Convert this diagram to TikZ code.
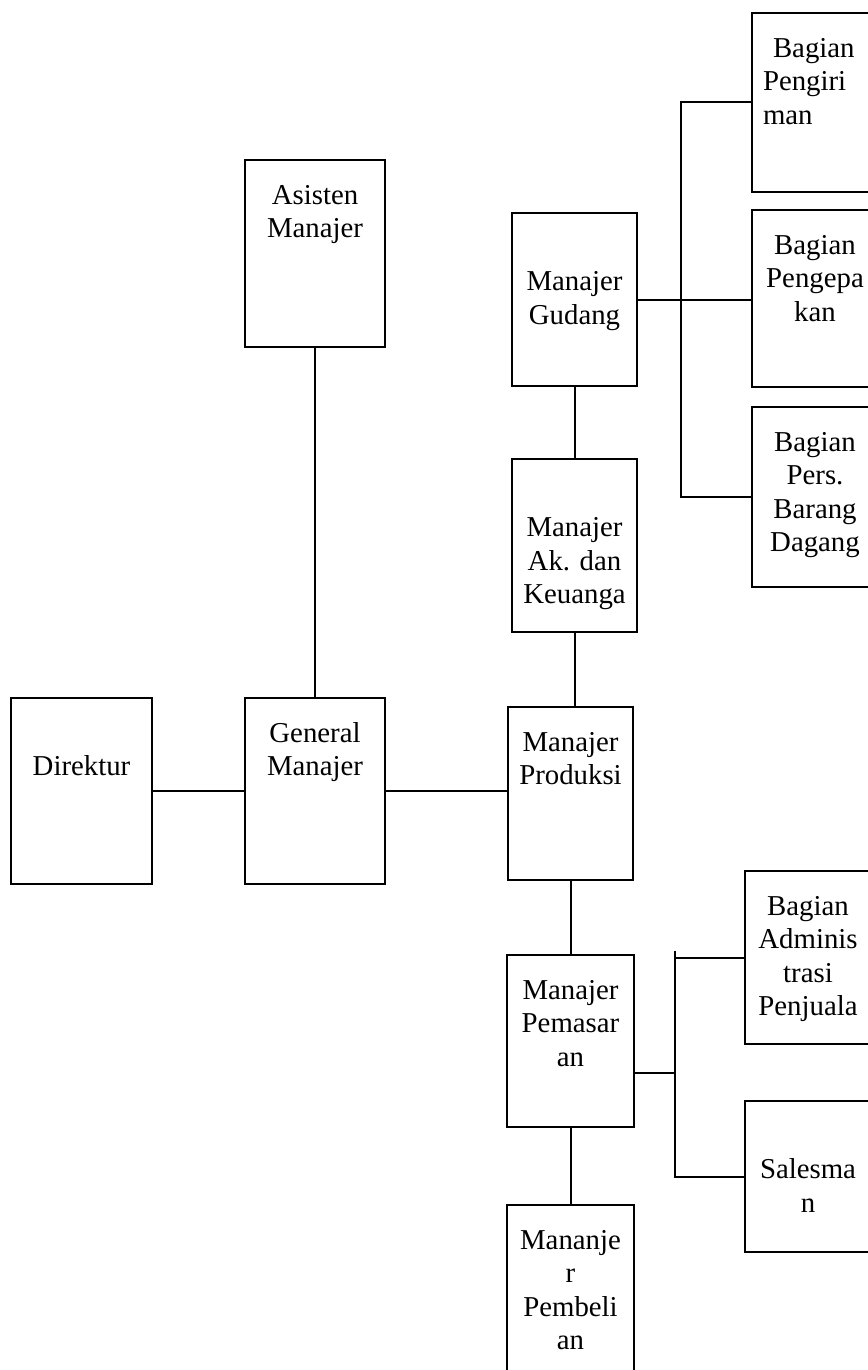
\documentclass[tikz,border=0pt]{standalone}
\usepackage{fontspec}
\setmainfont{Liberation Serif}
\usetikzlibrary{positioning}

\newdimen\pxunit \pxunit=0.5pt
% text of a box: set from the top, first baseline at a fixed depth
\newcommand{\unittext}[3]{\parbox[t][#2\pxunit][t]{#1\pxunit}{\centering\rule{0pt}{44.5\pxunit}#3}}

\tikzset{
  unit/.style={draw,line width=1pt,anchor=north west,inner sep=0pt,outer sep=0pt,
    font=\fontsize{14.4}{16.65}\selectfont},
  link/.style={line width=1pt}
}

\begin{document}
\begin{tikzpicture}[x=0.5pt,y=-0.5pt]
\useasboundingbox (0,0) rectangle (867,1370);

\node[unit] (gm) at (245,698) {\unittext{140}{186}{General\\Manajer}};
\node[unit,left=46.5pt of gm] (direktur) {\unittext{141}{186}{\mbox{}\\Direktur}};
\node[unit,above=175.5pt of gm] (asisten) {\unittext{140}{187}{Asisten\\Manajer}};

\node[unit] (produksi) at (508,707) {\unittext{125}{173}{Manajer\\Produksi}};
\node[unit] (ak) at (512,459) {\unittext{125}{173}{\mbox{}\\Manajer\\Ak. dan\\Keuanga}};
\node[unit,above=36.5pt of ak] (gudang) {\unittext{125}{173}{\mbox{}\\Manajer\\Gudang}};
\node[unit,below=37.5pt of produksi] (pemasaran) {\unittext{127}{172}{Manajer\\Pemasar\\an}};
\node[unit,below=39pt of pemasaran] (pembelian) {\unittext{127}{180}{Mananje\\r\\Pembeli\\an}};

\node[unit] (pengepakan) at (752,210) {\unittext{126}{177}{Bagian\\Pengepa\\kan}};
\node[unit,above=9pt of pengepakan] (pengiriman) {\unittext{126}{179}{\raggedright\leftskip=11\pxunit
  \hspace*{10\pxunit}Bagian\\Pengiri\\man}};
\node[unit,below=10pt of pengepakan] (pers) {\unittext{126}{180}{Bagian\\Pers.\\Barang\\Dagang}};

\node[unit] (admin) at (745,871) {\unittext{126}{173}{Bagian\\Adminis\\trasi\\Penjuala}};
\node[unit,below=28.5pt of admin] (salesman) {\unittext{126}{151}{\mbox{}\\Salesma\\n}};

\draw[link] (direktur) -- (gm);
\draw[link] (asisten) -- (gm);
\draw[link] (gm.east) -- (gm.east -| produksi.west);
\draw[link] (gudang) -- (ak);
\draw[link] (ak.south) -- (ak.south |- produksi.north);
\draw[link] (produksi.south) -- (produksi.south |- pemasaran.north);
\draw[link] (pemasaran.south) -- (pemasaran.south |- pembelian.north);

\coordinate (gbus) at (681,300);
\draw[link] (gudang.east) -- (gudang.east -| pengepakan.west);
\draw[link] (pengiriman.west) -| (gbus) |- (pers.west);

\coordinate (pbus) at (675,1073);
\coordinate (ptop) at (675,951);
\draw[link] (pemasaran.east |- pbus) -- (pbus);
\draw[link] (admin.west) -- (admin.west -| ptop);
\draw[link] (ptop) |- (salesman.west);
\end{tikzpicture}
\end{document}
